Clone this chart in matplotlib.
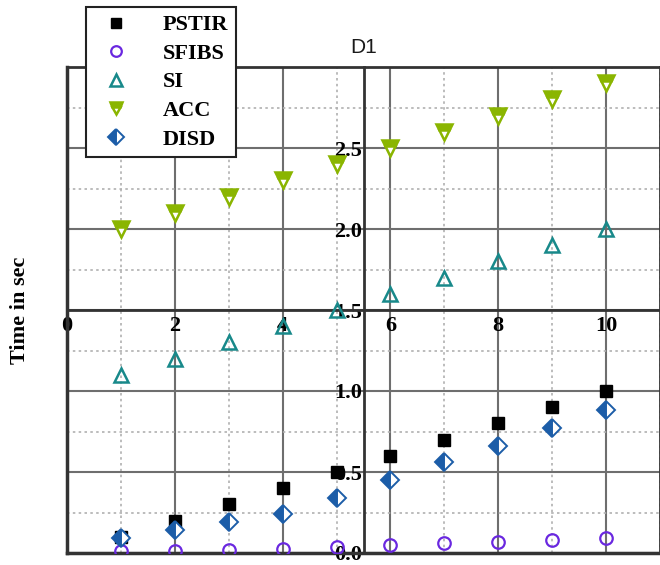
import numpy as np
import matplotlib
matplotlib.use("Agg")
from matplotlib import pyplot as plt
from matplotlib.ticker import MultipleLocator

# -- Data ---------------------------------------------------------------------

runs = [1, 2, 3, 4, 5, 6, 7, 8, 9, 10]
pstir = [0.10, 0.20, 0.30, 0.40, 0.50, 0.60, 0.70, 0.80, 0.90, 1.00]
sfibs = [0.01, 0.01, 0.02, 0.025, 0.04, 0.05, 0.06, 0.07, 0.08, 0.09]
si = [1.10, 1.20, 1.30, 1.40, 1.50, 1.60, 1.70, 1.80, 1.90, 2.00]
acc = [2.00, 2.10, 2.20, 2.30, 2.40, 2.50, 2.60, 2.70, 2.80, 2.90]
disd = [0.09, 0.14, 0.19, 0.24, 0.34, 0.45, 0.56, 0.66, 0.77, 0.88]

x_ticks = [0, 2, 4, 6, 8, 10]
y_ticks = [0.0, 0.5, 1.0, 1.5, 2.0, 2.5]

# -- Style --------------------------------------------------------------------

serif = "Liberation Serif"
axis_color = "#333333"
grid_color = "#6e6e6e"

fig = plt.figure(figsize=(6.6, 5.65), dpi=100)
fig.set_facecolor("white")
ax = fig.add_axes((67 / 660, 12 / 565, 593 / 660, 486 / 565))

ax.plot(runs, pstir, ls="none", marker="s", ms=9, color="black", label="PSTIR", zorder=3)
ax.plot(runs, sfibs, ls="none", marker="o", ms=9, mfc="none", mec="#6a28e0",
        mew=1.6, label="SFIBS", zorder=3)
ax.plot(runs, si, ls="none", marker="^", ms=10, mfc="none", mec="#18898a",
        mew=1.8, label="SI", zorder=3)
ax.plot(runs, acc, ls="none", marker="v", ms=11, color="#8ab500", fillstyle="top",
        markerfacecoloralt="white", mec="#8ab500", mew=1.8, label="ACC", zorder=3)
ax.plot(runs, disd, ls="none", marker="D", ms=9, color="#1c5da8", fillstyle="left",
        markerfacecoloralt="white", mec="#1c5da8", mew=1.4, label="DISD", zorder=4)

ax.set_xlim(0, 11)
ax.set_ylim(0, 3)
ax.set_xticks(x_ticks)
ax.set_yticks(y_ticks)
ax.set_xticklabels([str(v) for v in x_ticks])
ax.set_yticklabels([f"{v:.1f}" for v in y_ticks])
ax.xaxis.set_minor_locator(MultipleLocator(1))
ax.yaxis.set_minor_locator(MultipleLocator(0.25))

# axes cross in the middle of the plot
ax.spines["left"].set_position(("data", 5.5))
ax.spines["bottom"].set_position(("data", 1.5))
for s in ax.spines.values():
    s.set_color(axis_color)
    s.set_linewidth(2)
ax.axvline(0, color=axis_color, lw=2.5, clip_on=False, zorder=2)
ax.axhline(0, color=axis_color, lw=2.5, clip_on=False, zorder=2)

ax.grid(which="major", color=grid_color, lw=1.5, ls="-", zorder=0)
ax.grid(which="minor", color="#b0b0b0", lw=1.2, ls=(0, (1.5, 2.0)), zorder=0)
ax.set_axisbelow(True)

ax.tick_params(which="both", length=0)
ax.tick_params(axis="x", pad=4)
ax.tick_params(axis="y", pad=1)
for lab in ax.get_xticklabels() + ax.get_yticklabels():
    lab.set_fontfamily(serif)
    lab.set_fontweight("bold")
    lab.set_fontsize(16)

ax.set_title("D1", fontfamily="Liberation Sans", fontsize=15, color="#1a1a1a", pad=10)
ax.set_ylabel("Time in sec", fontfamily=serif, fontweight="bold", fontsize=16)
ax.yaxis.set_label_coords(-0.062, 0.5)

leg = fig.legend(loc="upper left", bbox_to_anchor=(86 / 660, 1 - 7 / 565),
                 borderaxespad=0, numpoints=1, fancybox=False, framealpha=1,
                 edgecolor="#222222", labelspacing=0.36, handletextpad=1.1,
                 borderpad=0.35, markerscale=0.85,
                 prop={"family": serif, "weight": "bold", "size": 16})
leg.get_frame().set_linewidth(1.5)
leg.set_zorder(10)

fig.savefig("out.png", dpi=100, facecolor="white")
